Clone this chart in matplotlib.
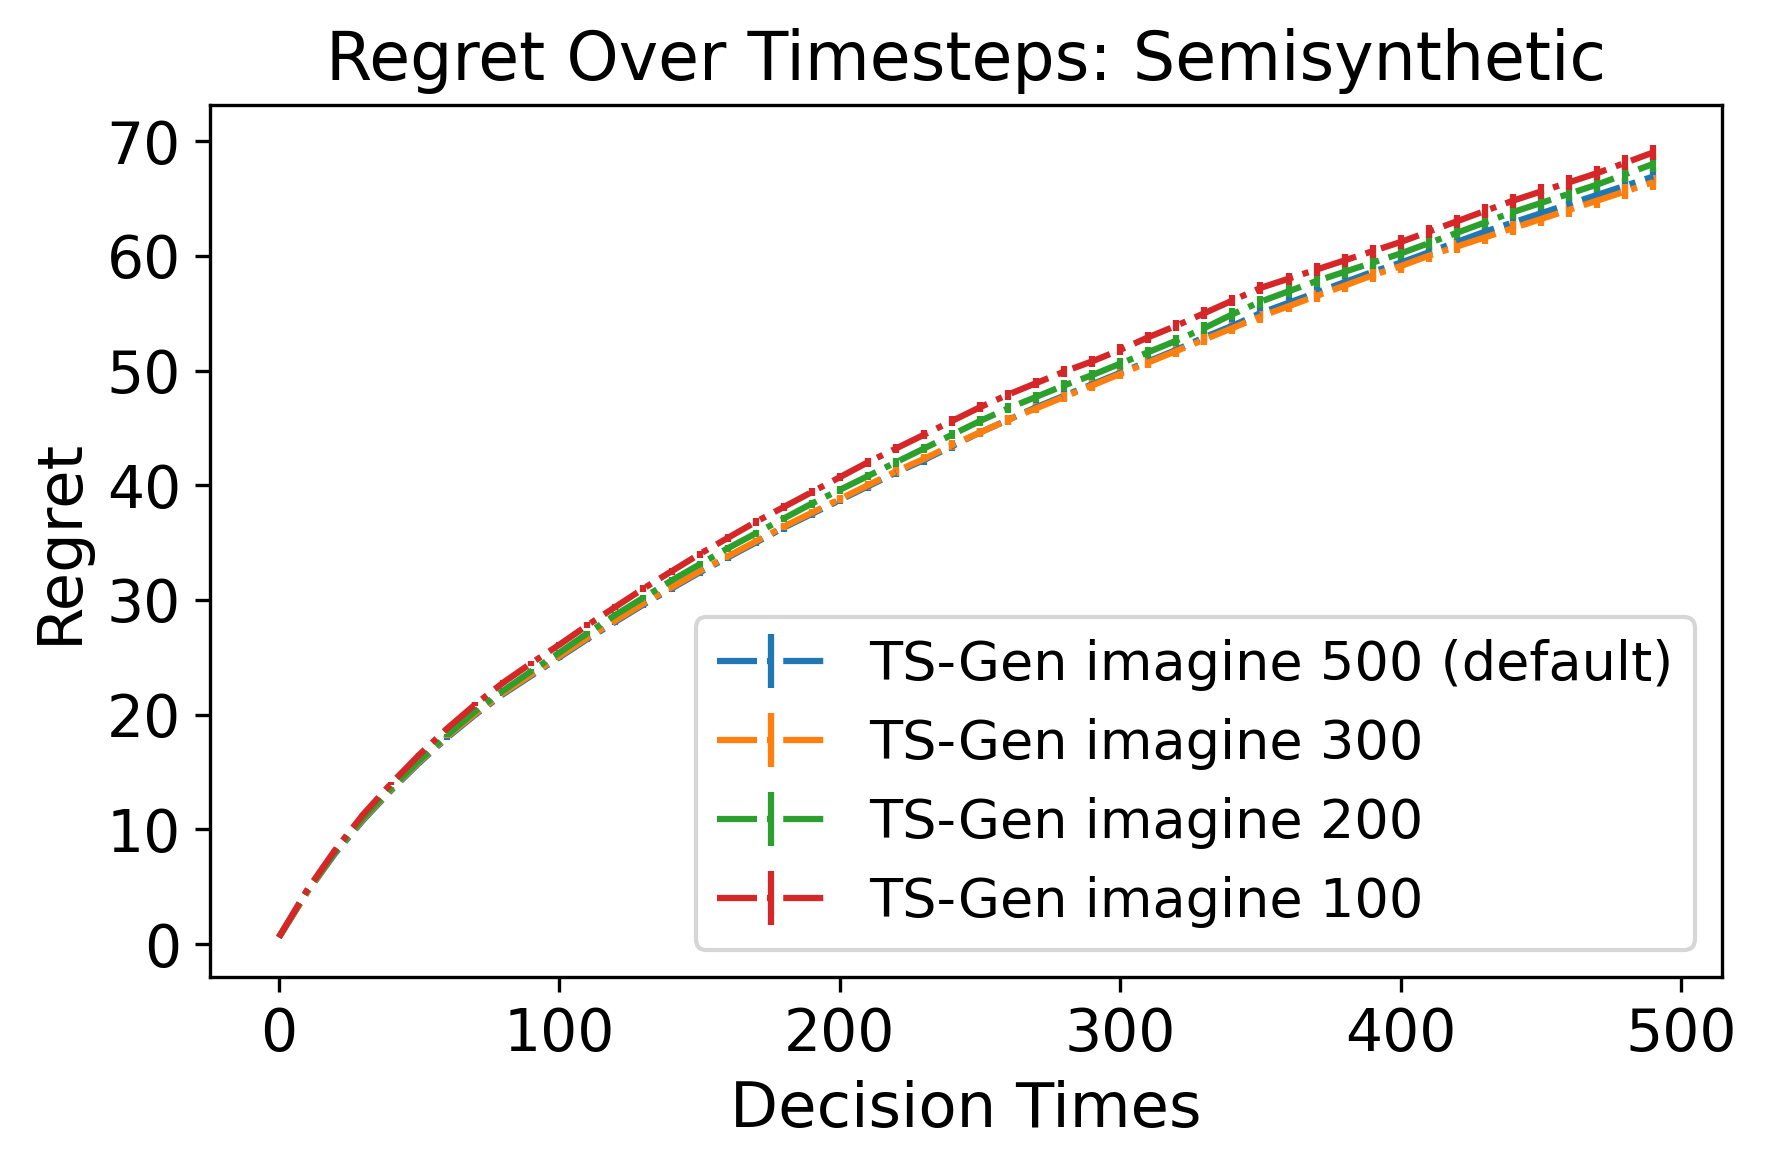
import numpy as np
import matplotlib
matplotlib.use("Agg")
import matplotlib.pyplot as plt

# Decision times (every 10 steps)
times = list(range(0, 500, 10))

# Mean regret per setting
regret_500 = [0.6, 4.5, 7.9, 10.8, 13.4, 15.8, 18.0, 20.0, 21.8, 23.4,
              25.0, 26.6, 28.1, 29.6, 31.0, 32.4, 33.7, 35.0, 36.3, 37.5,
              38.7, 39.9, 41.1, 42.2, 43.4, 44.6, 45.7, 46.8, 47.8, 48.8,
              49.8, 50.8, 51.8, 52.9, 53.9, 55.0, 55.9, 56.8, 57.7, 58.6,
              59.4, 60.3, 61.2, 62.1, 62.9, 63.7, 64.5, 65.3, 66.1, 66.9]
regret_300 = [0.6, 4.5, 8.0, 10.9, 13.5, 15.9, 18.1, 20.1, 21.9, 23.5,
              25.1, 26.7, 28.2, 29.7, 31.1, 32.5, 33.8, 35.1, 36.4, 37.6,
              38.8, 40.0, 41.2, 42.3, 43.5, 44.6, 45.7, 46.7, 47.7, 48.7,
              49.7, 50.7, 51.7, 52.7, 53.7, 54.7, 55.6, 56.5, 57.4, 58.3,
              59.1, 60.0, 60.8, 61.6, 62.4, 63.2, 64.0, 64.8, 65.6, 66.4]
regret_200 = [0.6, 4.6, 8.0, 11.0, 13.6, 16.0, 18.2, 20.3, 22.1, 23.8,
              25.4, 27.1, 28.7, 30.2, 31.7, 33.1, 34.5, 35.8, 37.1, 38.4,
              39.6, 40.8, 42.0, 43.2, 44.4, 45.6, 46.7, 47.7, 48.7, 49.6,
              50.6, 51.6, 52.6, 53.7, 54.9, 56.0, 56.9, 57.8, 58.6, 59.4,
              60.2, 61.1, 62.0, 62.9, 63.8, 64.6, 65.4, 66.2, 67.1, 68.0]
regret_100 = [0.6, 4.7, 8.2, 11.3, 14.0, 16.5, 18.8, 20.9, 22.8, 24.5,
              26.1, 27.8, 29.4, 31.0, 32.5, 34.0, 35.4, 36.8, 38.1, 39.4,
              40.7, 42.0, 43.2, 44.4, 45.6, 46.8, 47.9, 48.9, 49.9, 50.8,
              51.8, 52.9, 53.9, 55.0, 56.1, 57.2, 58.0, 58.8, 59.6, 60.4,
              61.2, 62.1, 63.0, 63.9, 64.8, 65.6, 66.4, 67.2, 68.1, 69.0]

# Standard error (approx., shared)
std_err = [0.00, 0.05, 0.08, 0.10, 0.12, 0.14, 0.16, 0.18, 0.20, 0.21,
           0.23, 0.24, 0.26, 0.27, 0.29, 0.30, 0.31, 0.33, 0.34, 0.35,
           0.36, 0.38, 0.39, 0.40, 0.41, 0.42, 0.43, 0.44, 0.45, 0.46,
           0.47, 0.48, 0.49, 0.50, 0.51, 0.52, 0.53, 0.54, 0.55, 0.56,
           0.57, 0.58, 0.59, 0.60, 0.61, 0.62, 0.63, 0.64, 0.65, 0.66]

labels = ["TS-Gen imagine 500 (default)", "TS-Gen imagine 300",
          "TS-Gen imagine 200", "TS-Gen imagine 100"]
series = [regret_500, regret_300, regret_200, regret_100]

fig = plt.figure(figsize=(1766 / 300, 1170 / 300), dpi=300)
ax = fig.add_subplot(111)
fig.subplots_adjust(left=0.119, right=0.975, top=0.910, bottom=0.165)

for vals, lab in zip(series, labels):
    ax.errorbar(times, vals, yerr=std_err, linestyle='-.', label=lab)

ax.set_title("Regret Over Timesteps: Semisynthetic", fontsize=16)
ax.set_xlabel("Decision Times", fontsize=15)
ax.set_ylabel("Regret", fontsize=15)
ax.tick_params(labelsize=14)
ax.set_yticks(np.arange(0, 80, 10))
ax.legend(loc='lower right', fontsize=13)

fig.savefig("out.png", dpi=300)
